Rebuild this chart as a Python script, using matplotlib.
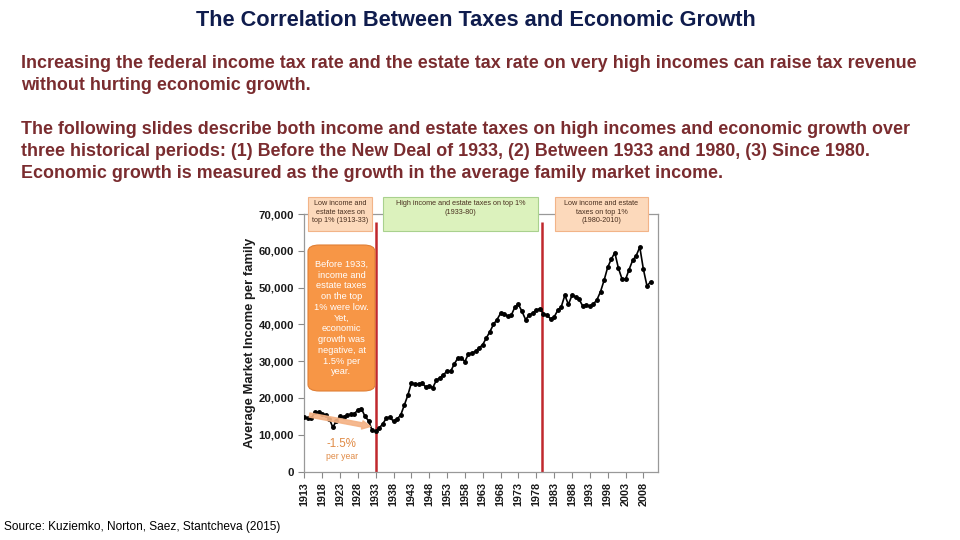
import numpy as np
import matplotlib
matplotlib.use("Agg")
import matplotlib.pyplot as plt
from matplotlib.patches import FancyBboxPatch, FancyArrowPatch

plt.rcParams['font.family'] = ['Liberation Sans', 'DejaVu Sans']

# ---------------- data ----------------
years = list(range(1913, 2011))
income = [
    14800, 14500, 14600, 16100, 16200, 15500, 15400, 14300, 12000, 13800,
    15000, 14800, 15300, 15500, 15700, 16700, 17100, 15000, 13800, 11200,
    10900, 11800, 13000, 14500, 14800, 13600, 14300, 15300, 18000, 20700,
    24100, 23800, 23700, 24000, 23000, 23200, 22800, 24800, 25500, 26300,
    27300, 27200, 29200, 30800, 30800, 29900, 32000, 32200, 32700, 33600,
    34500, 36300, 38000, 40000, 41300, 43000, 42900, 42200, 42500, 44700,
    45400, 43500, 41300, 42500, 43100, 43800, 44300, 42900, 42500, 41500,
    42000, 43800, 44800, 47900, 45400, 47900, 47500, 46800, 45000, 45300,
    44900, 45500, 46700, 48900, 52000, 55500, 57700, 59500, 55300, 52400,
    52200, 54900, 57400, 58700, 61000, 55000, 50500, 51500,
]
period_breaks = [1933, 1979.7]
tick_years = list(range(1913, 2009, 5))
y_ticks = [0, 10000, 20000, 30000, 40000, 50000, 60000, 70000]

title = "The Correlation Between Taxes and Economic Growth"
para_lines = [
    "Increasing the federal income tax rate and the estate tax rate on very high incomes can raise tax revenue",
    "without hurting economic growth.",
    "The following slides describe both income and estate taxes on high incomes and economic growth over",
    "three historical periods: (1) Before the New Deal of 1933, (2) Between 1933 and 1980, (3) Since 1980.",
    "Economic growth is measured as the growth in the average family market income.",
]
para_y = [64, 86, 130, 151, 173]
period_labels = [
    "Low income and\nestate taxes on\ntop 1% (1913-33)",
    "High income and estate taxes on top 1%\n(1933-80)",
    "Low income and estate\ntaxes on top 1%\n(1980-2010)",
]
callout = ("Before 1933,\nincome and\nestate taxes\non the top\n1% were low.\nYet,\neconomic\n"
           "growth was\nnegative, at\n1.5% per\nyear.")

W, H = 960, 540


def fx(x):
    return x / W


def fy(y):
    return 1 - y / H


fig = plt.figure(figsize=(9.6, 5.4), dpi=100)
fig.patch.set_facecolor("white")

# ---------------- header text ----------------
fig.text(fx(476), fy(20.5), title, ha="center", va="center", fontsize=15.7,
         fontweight="bold", color="#0f1c4d")
for line, y in zip(para_lines, para_y):
    fig.text(fx(21), fy(y), line, ha="left", va="center", fontsize=12.9,
             fontweight="bold", color="#7a2c2f")
fig.text(fx(4), fy(527), "Source: Kuziemko, Norton, Saez, Stantcheva (2015)",
         ha="left", va="center", fontsize=8.6, color="black")

# ---------------- chart ----------------
ax = fig.add_axes([fx(304.3), fy(471.5), fx(658 - 304.3), (471.5 - 214) / H])
ax.plot(years, income, color="black", lw=1.2, marker="o", ms=2.5, zorder=3)
ax.vlines(period_breaks, 0, 67800, color="#c0282d", lw=1.8, zorder=2)

ax.set_xlim(1913, 2012.1)
ax.set_ylim(0, 70000)
ax.set_xticks(tick_years)
ax.set_xticklabels([str(t) for t in tick_years], rotation=90, fontsize=7.8,
                   fontweight="bold")
ax.set_yticks(y_ticks)
ax.set_yticklabels([f"{v:,}" for v in y_ticks], fontsize=8.2, fontweight="bold")
ax.tick_params(axis="both", colors="#888888", labelcolor="#1a1a1a", length=4,
               direction="out", width=0.8)
for s in ax.spines.values():
    s.set_color("#999999")
    s.set_linewidth(0.9)
ax.set_ylabel("Average Market Income per family", fontsize=9.4, fontweight="bold",
              color="#1a1a1a", labelpad=2)

# trend arrow and label
arr = FancyArrowPatch((1913.7, 15500), (1932.3, 12100),
                      arrowstyle="simple,head_width=6,head_length=6,tail_width=3",
                      color="#f4b183", alpha=0.9, zorder=4, mutation_scale=1)
ax.add_patch(arr)
ax.text(1923.5, 7400, "-1.5%", ha="center", va="center", fontsize=8.3,
        color="#e08a45")
ax.text(1923.5, 4100, "per year", ha="center", va="center", fontsize=6.2,
        color="#e08a45")

# period boxes at the top
boxes = [(308, 372, "#fcd9bb", "#f2b488"),
         (383, 538, "#dcf2bd", "#a9d18e"),
         (555, 648, "#fcd9bb", "#f2b488")]
for (x0, x1, fc, ec), lab in zip(boxes, period_labels):
    p = FancyBboxPatch((fx(x0), fy(231)), fx(x1 - x0), (231 - 197) / H,
                       boxstyle="square,pad=0", transform=fig.transFigure,
                       facecolor=fc, edgecolor=ec, lw=0.8, zorder=5)
    fig.add_artist(p)
    fig.text(fx((x0 + x1) / 2), fy(200), lab, ha="center", va="top",
             fontsize=5.2, color="#4a3020", linespacing=1.35, zorder=6)

# orange call-out
cb = FancyBboxPatch((fx(308), fy(391)), fx(375 - 308), (391 - 245) / H,
                    boxstyle="round,pad=0,rounding_size=0.012",
                    transform=fig.transFigure, facecolor="#f79646",
                    edgecolor="#e07f35", lw=0.8, zorder=5)
fig.add_artist(cb)
fig.text(fx(341.5), fy(318), callout, ha="center", va="center", fontsize=6.7,
         color="white", linespacing=1.25, zorder=6)

fig.savefig("out.png", dpi=100)
